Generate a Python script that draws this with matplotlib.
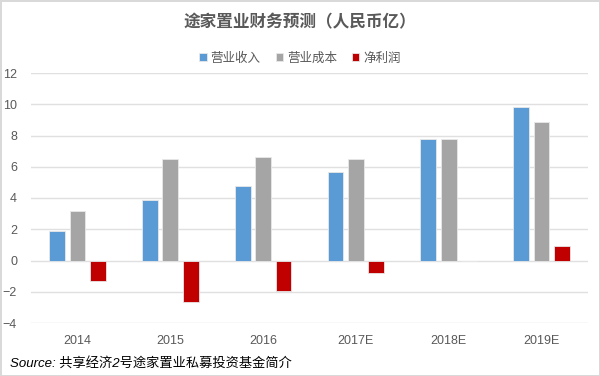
import matplotlib
matplotlib.use("Agg")
import matplotlib.pyplot as plt
import numpy as np

plt.rcParams['font.family'] = ['Noto Sans CJK SC', 'DejaVu Sans']
plt.rcParams['axes.unicode_minus'] = True

years = ["2014", "2015", "2016", "2017E", "2018E", "2019E"]
revenue = [1.92, 3.89, 4.74, 5.66, 7.76, 9.85]
cost = [3.18, 6.52, 6.62, 6.47, 7.76, 8.89]
profit = [-1.28, -2.63, -1.94, -0.81, 0.0, 0.94]

series_names = ["营业收入", "营业成本", "净利润"]
colors = ["#5B9BD5", "#A5A5A5", "#C00000"]
text_gray = "#595959"

fig = plt.figure(figsize=(6, 3.76), dpi=100)
fig.patch.set_edgecolor("#d9d9d9")
fig.patch.set_linewidth(2)
ax = fig.add_axes([31 / 600, 53 / 376, 557 / 600, 250 / 376])

x = np.arange(len(years))
w = 0.17
step = 0.22
for i, (vals, name, c) in enumerate(zip([revenue, cost, profit], series_names, colors)):
    ax.bar(x + (i - 1) * step, vals, width=w, color=c, edgecolor="#e8e8e8",
           linewidth=0.6, label=name, zorder=3)

ax.set_xlim(-0.5, len(years) - 0.5)
ax.set_ylim(-4, 12)
ax.set_yticks(np.arange(-4, 13, 2))
ax.set_xticks(x)
ax.set_xticklabels(years)
ax.grid(axis="y", color="#e0e0e0", linewidth=1, zorder=0)
for s in ax.spines.values():
    s.set_visible(False)
ax.tick_params(axis="both", length=0, colors=text_gray, labelsize=9)
ax.tick_params(axis="x", pad=9)
ax.tick_params(axis="y", pad=10)
for lbl in ax.get_xticklabels() + ax.get_yticklabels():
    lbl.set_family(["Liberation Sans", "DejaVu Sans"])

fig.text(0.5, 0.94, "途家置业财务预测（人民币亿）", ha="center", va="center",
         fontsize=12, fontweight="bold", color=text_gray)

fig.legend(loc="center", bbox_to_anchor=(0.5, 0.845), ncol=3, frameon=False,
           fontsize=9, handlelength=0.6, handleheight=0.6, handletextpad=0.3,
           columnspacing=1.2, labelcolor=text_gray)

fig.text(0.017, 0.035, "Source: 共享经济2号途家置业私募投资基金简介", ha="left",
         va="center", fontsize=9.5, style="italic", color="black",
         family=["Liberation Sans", "Noto Sans CJK SC"])

fig.savefig("out.png", dpi=100, edgecolor=fig.get_edgecolor())
